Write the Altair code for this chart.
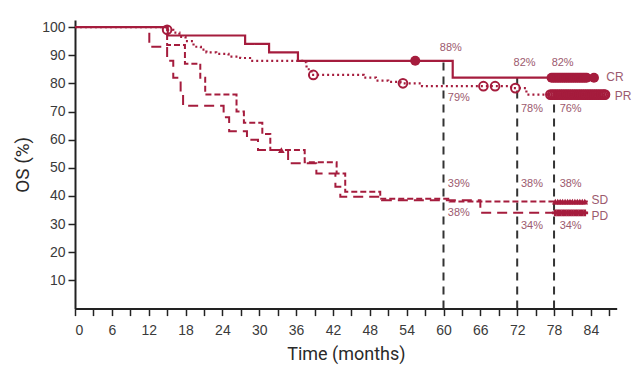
import altair as alt
import pandas as pd

RED = "#A51C3D"
LBL = "#9C5A6E"

# ---- survival curves (months, OS %) ----
cr_t = [0, 15.1, 27.7, 31.6, 36.3, 61.5, 84.5]
cr_s = [100, 97, 94, 91, 88, 82, 82]

pr_t = [0, 15.0, 16.0, 17.0, 18.0, 19.3, 20.5, 21.4, 23.0, 25.0, 26.9, 28.5, 37.2, 37.7, 38.5, 47.0, 49.0, 51.0, 53.0, 56.5, 71.0, 73.5, 86.3]
pr_s = [100, 99, 98, 96.5, 95, 93, 92, 91, 90.5, 89.5, 89, 88, 87.5, 85, 83, 82, 81, 80.5, 80, 79, 78.3, 76, 76]

sd_t = [0, 15.0, 17.9, 20.4, 21.2, 26.3, 27.5, 30.5, 31.8, 37.4, 42.6, 44.0, 49.7, 61.0, 83.5]
sd_s = [100, 93.6, 87, 82, 76, 70, 66, 62, 56.3, 52, 48, 41.5, 39, 38, 38]

pd_t = [0, 12.1, 15.0, 16.0, 17.2, 17.6, 24.2, 25.1, 28.0, 29.8, 34.7, 39.3, 42.4, 43.2, 50.0, 66.0, 83.5]
pd_s = [100, 93, 88, 82, 76, 72, 68, 63, 60, 56.3, 51.6, 48, 43.3, 39.7, 38.5, 34, 34]

# ---- censor marks ----
cr_cens_t = [55.4, 77.6, 77.9, 78.2, 78.5, 78.8, 79.1, 79.4, 79.7, 80.0, 80.3, 80.6, 80.9, 81.2,
             81.5, 81.8, 82.1, 82.4, 82.7, 83.0, 83.3, 84.5]
cr_cens_s = [88] + [82] * 21

pr_cens_t = [15.0, 38.8, 53.4, 66.5, 68.4, 71.7, 77.4, 77.7, 78.0, 78.3, 78.6, 78.9, 79.2, 79.5, 79.8,
             80.1, 80.4, 80.7, 81.0, 81.3, 81.6, 81.9, 82.2, 82.5, 82.8, 83.1, 83.4, 83.7, 84.0,
             84.3, 84.6, 84.9, 85.2, 85.5, 85.8, 86.1, 86.3]
pr_cens_s = [99, 83, 80, 79, 79, 78.3] + [76] * 31

sd_cens_t = [33.6, 78.2, 78.6, 79.0, 79.4, 79.8, 80.2, 80.6, 81.0, 81.4, 81.8, 82.2, 82.6, 83.0]
sd_cens_s = [56.3] + [38] * 13

pd_cens_t = [78.2, 78.6, 79.0, 79.4, 79.8, 80.2, 80.6, 81.0, 81.4, 81.8, 82.2, 82.6, 83.0]
pd_cens_s = [34] * 13

# ---- landmark lines ----
ref_x = [60, 72, 78]
ref_top = [88, 82, 76]

# ---- percentage labels ----
pct_text = ["88%", "79%", "82%", "78%", "82%", "76%", "39%", "38%", "38%", "38%", "34%", "34%"]
pct_x = [61.2, 62.5, 73.2, 74.4, 79.4, 80.7, 62.5, 74.4, 80.7, 62.5, 74.4, 80.7]
pct_y = [92.6, 74.8, 87.2, 70.9, 87.2, 70.9, 44.2, 44.2, 44.2, 33.8, 29.5, 29.5]

grp_text = ["CR", "PR", "SD", "PD"]
grp_x = [86.5, 87.9, 84.1, 84.1]
grp_y = [82.1, 75.6, 38.6, 32.9]

x_ticks = list(range(0, 88, 3))
y_ticks = [10, 20, 30, 40, 50, 60, 70, 80, 90, 100]

X_DOM = [0, 88.2]
Y_DOM = [0, 102.5]

xs = alt.Scale(domain=X_DOM, nice=False, zero=False)
ys = alt.Scale(domain=Y_DOM, nice=False)

x_axis = alt.Axis(values=x_ticks, labelExpr="datum.value % 6 == 0 ? datum.label : ''",
                  title="Time (months)", grid=False, tickSize=7, labelPadding=8,
                  labelOverlap=False, titlePadding=8, titleFontSize=18, titleFontWeight="normal")
y_axis = alt.Axis(values=y_ticks, title="OS (%)", grid=False, tickSize=7, labelPadding=3,
                  labelOverlap=False, titlePadding=9, titleFontSize=19, titleFontWeight="normal")

X = alt.X("t:Q", scale=xs, axis=x_axis)
Y = alt.Y("s:Q", scale=ys, axis=y_axis)


def curve(t, s, dash, width=2):
    df = pd.DataFrame({"t": t, "s": s})
    m = alt.Chart(df).mark_line(interpolate="step-after", color=RED, strokeWidth=width,
                                strokeDash=dash if dash else [1, 0])
    return m.encode(x=X, y=Y)


ref_df = pd.DataFrame({"t": ref_x, "s2": ref_top, "s": [0, 0, 0]})
refs = alt.Chart(ref_df).mark_rule(color="#333333", strokeWidth=2, strokeDash=[8, 6]).encode(
    x=X, y=Y, y2="s2:Q",
)

cr_line = curve(cr_t, cr_s, None, 2.2)
pr_line = curve(pr_t, pr_s, [2, 3], 2.2)
sd_line = curve(sd_t, sd_s, [6, 3], 2)
pd_line = curve(pd_t, pd_s, [10, 6], 2)


def pts(t, s, **kw):
    df = pd.DataFrame({"t": t, "s": s})
    return alt.Chart(df).mark_point(**kw).encode(x=X, y=Y)


cr_pts = pts(cr_cens_t, cr_cens_s, shape="circle", filled=True, size=100, color=RED, opacity=1)
pr_pts = pts(pr_cens_t, pr_cens_s, shape="circle", filled=False, size=75, color=RED, strokeWidth=2, opacity=1)
sd_pts = pts(sd_cens_t, sd_cens_s, shape="triangle-up", filled=True, size=45, color=RED, opacity=1)
pd_pts = pts(pd_cens_t, pd_cens_s, shape="cross", filled=True, size=45, color=RED, opacity=1)

pct_df = pd.DataFrame({"t": pct_x, "s": pct_y, "txt": pct_text})
pct = alt.Chart(pct_df).mark_text(color=LBL, fontSize=11, font="Liberation Sans", align="center",
                                  baseline="middle").encode(x=X, y=Y, text="txt:N")

grp_df = pd.DataFrame({"t": grp_x, "s": grp_y, "txt": grp_text})
grp = alt.Chart(grp_df).mark_text(color=LBL, fontSize=12, font="Liberation Sans", align="left",
                                  baseline="middle").encode(x=X, y=Y, text="txt:N")

chart = alt.layer(refs, pd_line, sd_line, pr_line, cr_line, pd_pts, sd_pts, pr_pts, cr_pts, pct, grp).properties(
    width=541.7, height=288.6,
    autosize=alt.AutoSizeParams(type="none"),
    padding={"left": 67, "top": 12, "right": 15, "bottom": 65},
    background="white",
).configure_view(stroke=None).configure_axis(
    domainColor="#222222", domainWidth=2, tickColor="#222222", tickWidth=1.5,
    labelFontSize=14, labelColor="#3a3a3a", labelFont="Liberation Sans",
    titleColor="#2a2a2a", titleFont="Roboto", labelOverlap=False,
)

chart.save("out.html", embed_options={"renderer": "svg", "actions": False})
